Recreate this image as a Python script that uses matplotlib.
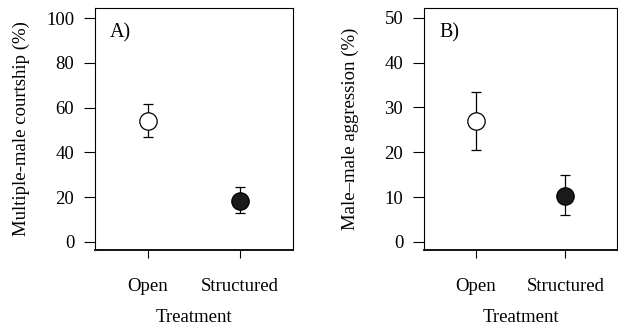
import matplotlib
matplotlib.use("Agg")
import matplotlib.pyplot as plt

# ---- DATA ----
treatments = ["Open", "Structured"]
courtship_mean = [54, 18.5]
courtship_lo = [47, 13]
courtship_hi = [61.5, 24.5]
aggression_mean = [27, 10.3]
aggression_lo = [20.5, 6]
aggression_hi = [33.5, 15]
# --------------

plt.rcParams["font.family"] = ["Liberation Serif", "DejaVu Serif"]
FS = 13.5

W, H = 618, 326
fig = plt.figure(figsize=(W / 100, H / 100), dpi=100)


def panel(left, right, means, lo, hi, ylim, yticks, ylabel, tag):
    width = right - left
    ax = fig.add_axes([left / W, 1 - 250 / H, width / W, 242 / H])
    x = [1, 2]
    for xi, m, l, h, fc in zip(x, means, lo, hi, ["white", "#1a1a1a"]):
        ax.errorbar(xi, m, yerr=[[m - l], [h - m]], fmt="none", ecolor="black",
                    elinewidth=0.9, capsize=3.5, capthick=0.9, zorder=2)
        ax.plot(xi, m, "o", ms=12.5, mfc=fc, mec="black", mew=0.9, zorder=3)
    ax.set_xlim(0.425, 2.575)
    ax.set_ylim(*ylim)
    ax.set_xticks(x)
    ax.set_xticklabels(treatments)
    ax.set_yticks(yticks)
    ax.tick_params(axis="y", length=8, width=0.8, pad=7, labelsize=FS)
    ax.tick_params(axis="x", length=6, width=0.8, pad=14.5, labelsize=FS)
    for s in ax.spines.values():
        s.set_linewidth(0.8)
    ax.spines["bottom"].set_linewidth(1.3)
    ax.set_xlabel("Treatment", fontsize=FS, labelpad=9.5)
    ax.set_ylabel(ylabel, fontsize=FS)
    ax.yaxis.set_label_coords(-65 / width, 0.5)
    ax.text(15 / width, 1 - 25 / 242, tag, transform=ax.transAxes, fontsize=14.5,
            ha="left", va="center")
    return ax


panel(95, 293, courtship_mean, courtship_lo, courtship_hi, (-3.6, 104.5),
      [0, 20, 40, 60, 80, 100], "Multiple-male courtship (%)", "A)")
panel(424, 617, aggression_mean, aggression_lo, aggression_hi, (-1.8, 52.2),
      [0, 10, 20, 30, 40, 50], "Male\u2013male aggression (%)", "B)")

fig.savefig("out.png", dpi=100)
